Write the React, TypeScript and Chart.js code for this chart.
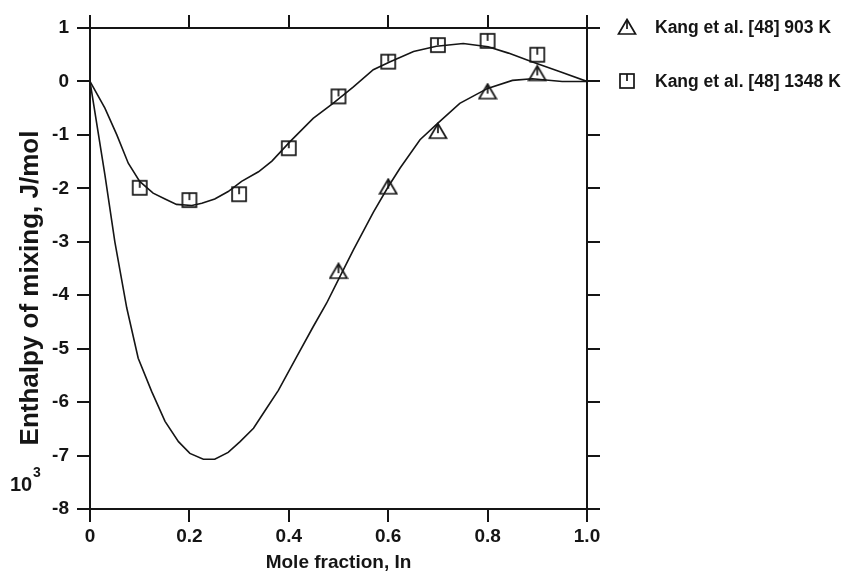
import { useEffect, useRef } from "react";
import { Chart, registerables } from "chart.js";

Chart.register(...registerables);

// ---- data ----
const xTickValues = [0, 0.2, 0.4, 0.6, 0.8, 1.0];
const xTickLabels = ["0", "0.2", "0.4", "0.6", "0.8", "1.0"];
const yTickValues = [1, 0, -1, -2, -3, -4, -5, -6, -7, -8];
const yTickLabels = ["1", "0", "-1", "-2", "-3", "-4", "-5", "-6", "-7", "-8"];

const curve903X = [0, 0.03, 0.05, 0.074, 0.097, 0.124, 0.151, 0.178, 0.201, 0.228, 0.251, 0.278, 0.302, 0.329, 0.355, 0.379, 0.416, 0.449, 0.476, 0.496, 0.53, 0.57, 0.6, 0.624, 0.664, 0.7, 0.744, 0.8, 0.85, 0.89, 0.95, 1.0];
const curve903Y = [0, -1.75, -3.0, -4.24, -5.18, -5.8, -6.36, -6.74, -6.96, -7.07, -7.07, -6.94, -6.74, -6.49, -6.12, -5.78, -5.15, -4.59, -4.15, -3.78, -3.15, -2.45, -1.97, -1.62, -1.09, -0.78, -0.41, -0.13, 0.02, 0.05, 0.0, 0.0];

const curve1348X = [0, 0.03, 0.054, 0.077, 0.1, 0.127, 0.151, 0.174, 0.205, 0.225, 0.251, 0.278, 0.305, 0.339, 0.366, 0.402, 0.449, 0.489, 0.53, 0.57, 0.604, 0.651, 0.697, 0.751, 0.801, 0.842, 0.889, 0.946, 1.0];
const curve1348Y = [0, -0.5, -1.0, -1.53, -1.87, -2.09, -2.2, -2.3, -2.32, -2.28, -2.2, -2.06, -1.87, -1.69, -1.49, -1.13, -0.69, -0.41, -0.1, 0.22, 0.37, 0.56, 0.66, 0.71, 0.65, 0.53, 0.37, 0.18, 0];

const kang903X = [0.5, 0.6, 0.7, 0.8, 0.9];
const kang903Y = [-3.55, -1.97, -0.93, -0.19, 0.15];
const kang1348X = [0.1, 0.2, 0.3, 0.4, 0.5, 0.6, 0.7, 0.8, 0.9];
const kang1348Y = [-1.99, -2.22, -2.11, -1.25, -0.28, 0.37, 0.68, 0.76, 0.5];

const seriesLabels = ["Kang et al. [48] 903 K", "Kang et al. [48] 1348 K"];
const xTitle = "Mole fraction, In";
const yTitle = "Enthalpy of mixing, J/mol";

const FONT = '"Liberation Sans", Arial, Helvetica, sans-serif';
const INK = "#151515";

function makeTriangle(): HTMLCanvasElement {
  const c = document.createElement("canvas");
  c.width = 20;
  c.height = 18;
  const g = c.getContext("2d")!;
  g.strokeStyle = INK;
  g.lineWidth = 1.7;
  g.lineJoin = "miter";
  g.beginPath();
  g.moveTo(10, 1.5);
  g.lineTo(18.5, 16);
  g.lineTo(1.5, 16);
  g.closePath();
  g.stroke();
  g.beginPath();
  g.moveTo(10, 1.5);
  g.lineTo(10, 11);
  g.stroke();
  return c;
}

function makeSquare(): HTMLCanvasElement {
  const c = document.createElement("canvas");
  c.width = 18;
  c.height = 18;
  const g = c.getContext("2d")!;
  g.strokeStyle = INK;
  g.lineWidth = 1.7;
  g.strokeRect(2, 2, 14, 14);
  g.beginPath();
  g.moveTo(9, 2);
  g.lineTo(9, 9);
  g.stroke();
  return c;
}

const zip = (xs: number[], ys: number[]) => xs.map((x, i) => ({ x, y: ys[i] }));

export default function App() {
  const ref = useRef<HTMLCanvasElement>(null);

  useEffect(() => {
    if (!ref.current) return;
    const tri = makeTriangle();
    const sq = makeSquare();

    const overlay = {
      id: "overlay",
      afterDraw(chart: any) {
        const ctx = chart.ctx as CanvasRenderingContext2D;
        ctx.save();
        ctx.fillStyle = INK;
        // y title
        ctx.save();
        ctx.translate(31, 288);
        ctx.rotate(-Math.PI / 2);
        ctx.textAlign = "center";
        ctx.textBaseline = "middle";
        ctx.font = `bold 26px ${FONT}`;
        ctx.fillText(yTitle, 0, 0);
        ctx.restore();
        // 10^3
        ctx.textAlign = "left";
        ctx.textBaseline = "middle";
        ctx.font = `bold 20px ${FONT}`;
        ctx.fillText("10", 10, 485);
        ctx.font = `bold 14px ${FONT}`;
        ctx.fillText("3", 33, 473);
        // legend
        const items = [tri, sq];
        items.forEach((img, i) => {
          const cy = 27 + i * 54;
          ctx.drawImage(img, 627 - img.width / 2, cy - img.height / 2);
          ctx.font = `bold 17.5px ${FONT}`;
          ctx.fillText(seriesLabels[i], 655, cy + 1);
        });
        ctx.restore();
      },
    };

    const gridOpts = { drawOnChartArea: false, tickLength: 13, color: INK, lineWidth: 2 };
    const borderOpts = { color: INK, width: 2 };
    const tickFont = { family: FONT, size: 19, weight: "bold" as const };

    const chart = new Chart(ref.current, {
      type: "scatter",
      data: {
        datasets: [
          {
            label: "903 K model",
            data: zip(curve903X, curve903Y),
            showLine: true,
            borderColor: INK,
            borderWidth: 1.6,
            pointRadius: 0,
            tension: 0,
          },
          {
            label: "1348 K model",
            data: zip(curve1348X, curve1348Y),
            showLine: true,
            borderColor: INK,
            borderWidth: 1.6,
            pointRadius: 0,
            tension: 0,
          },
          {
            label: seriesLabels[0],
            data: zip(kang903X, kang903Y),
            pointStyle: tri,
            pointRadius: 8,
          },
          {
            label: seriesLabels[1],
            data: zip(kang1348X, kang1348Y),
            pointStyle: sq,
            pointRadius: 8,
          },
        ],
      },
      options: {
        responsive: false,
        animation: false,
        devicePixelRatio: 1,
        layout: { padding: 0 },
        plugins: { legend: { display: false }, tooltip: { enabled: false } },
        scales: {
          x: {
            type: "linear",
            position: "bottom",
            min: 0,
            max: 1,
            afterBuildTicks: (s: any) => {
              s.ticks = xTickValues.map((v) => ({ value: v }));
            },
            ticks: {
              callback: (_v: any, i: number) => xTickLabels[i],
              font: tickFont,
              color: INK,
              padding: 3,
              maxRotation: 0,
              autoSkip: false,
            },
            grid: gridOpts,
            border: borderOpts,
            title: {
              display: true,
              text: xTitle,
              color: INK,
              font: { family: FONT, size: 19, weight: "bold" },
              padding: { top: 0, bottom: 1 },
            },
            afterFit: (s: any) => {
              s.height = 66;
            },
          },
          x2: {
            type: "linear",
            position: "top",
            min: 0,
            max: 1,
            afterBuildTicks: (s: any) => {
              s.ticks = xTickValues.map((v) => ({ value: v }));
            },
            ticks: { display: false },
            grid: gridOpts,
            border: borderOpts,
            afterFit: (s: any) => {
              s.height = 28;
            },
          },
          y: {
            type: "linear",
            position: "left",
            min: -8,
            max: 1,
            afterBuildTicks: (s: any) => {
              s.ticks = yTickValues.map((v) => ({ value: v }));
            },
            ticks: {
              callback: (_v: any, i: number) => yTickLabels[i],
              font: tickFont,
              color: INK,
              padding: 8,
              autoSkip: false,
            },
            grid: gridOpts,
            border: borderOpts,
            afterFit: (s: any) => {
              s.width = 90;
            },
          },
          y2: {
            type: "linear",
            position: "right",
            min: -8,
            max: 1,
            afterBuildTicks: (s: any) => {
              s.ticks = yTickValues.map((v) => ({ value: v }));
            },
            ticks: { display: false },
            grid: gridOpts,
            border: borderOpts,
            afterFit: (s: any) => {
              s.width = 254;
            },
          },
        },
      },
      plugins: [overlay],
    });

    return () => chart.destroy();
  }, []);

  return (
    <div style={{ position: "absolute", left: 0, top: 0, width: 841, height: 575, background: "#fff" }}>
      <canvas ref={ref} width={841} height={575} style={{ display: "block", width: 841, height: 575 }} />
    </div>
  );
}
